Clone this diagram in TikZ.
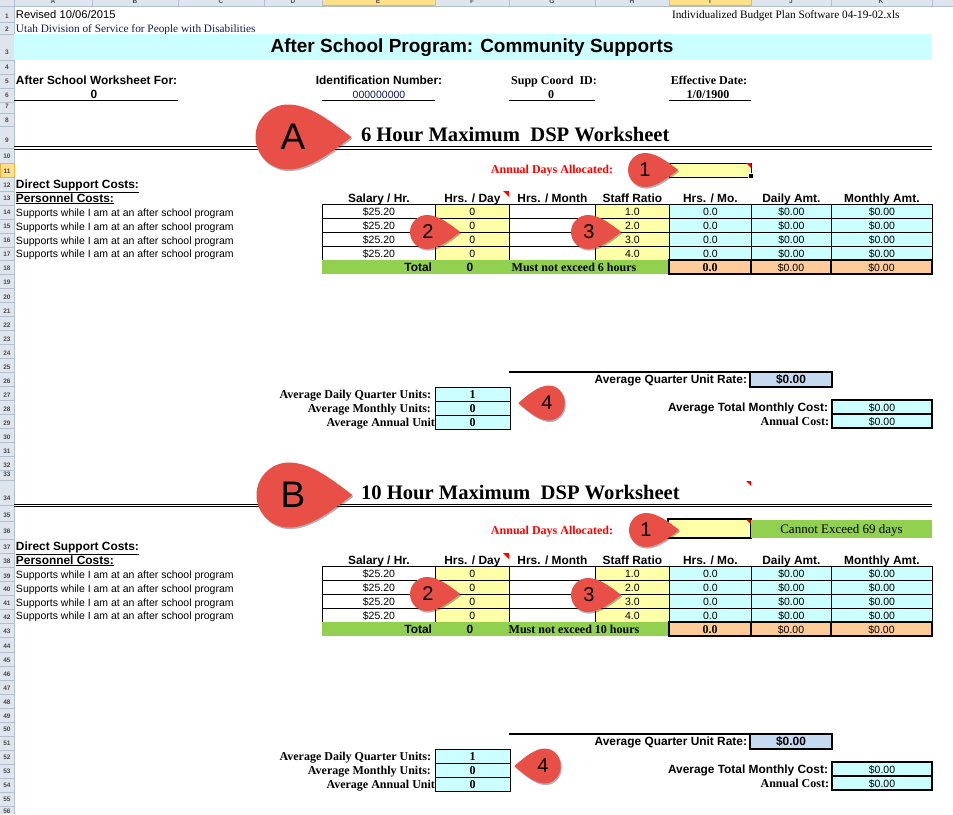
\documentclass[tikz,border=0pt]{standalone}
\usepackage{fontspec}
\setmainfont{Liberation Sans}
\newfontfamily\timesfont{Liberation Serif}
\usetikzlibrary{matrix,positioning,shadows}

\definecolor{hdrgray}{HTML}{DFE5EE}
\definecolor{hdrline}{HTML}{B4BFCE}
\definecolor{hdrsel}{HTML}{FCE08A}
\definecolor{hdredge}{HTML}{EDB24A}
\definecolor{bandcyan}{HTML}{CCFFFF}
\definecolor{cellyellow}{HTML}{FFFFA8}
\definecolor{cellgreen}{HTML}{92D050}
\definecolor{cellorange}{HTML}{FFCC99}
\definecolor{cellblue}{HTML}{C5D9F1}
\definecolor{calloutred}{HTML}{E84F47}
\definecolor{notered}{HTML}{FF0000}
\definecolor{utahblue}{HTML}{101A50}

\tikzset{
  plain/.style={inner sep=0pt,outer sep=0pt,text height=9pt,text depth=1pt,font=\fontsize{10.5}{12}\selectfont},
  armbold/.style={plain,font=\fontsize{11.9}{12}\selectfont\bfseries},
  serif/.style={plain,font=\fontsize{11.3}{12}\selectfont\timesfont},
  serifbold/.style={plain,font=\fontsize{12}{12}\selectfont\timesfont\bfseries},
  cellbox/.style={plain,draw=black,line width=.8pt,minimum height=14pt},
  sumbox/.style={cellbox,draw=black,line width=1.7pt,fill=cellorange},
  costbox/.style={cellbox,line width=1.7pt,fill=bandcyan,minimum width=100pt},
  unitbox/.style={cellbox,fill=bandcyan,minimum width=75pt},
  rowlab/.style={inner sep=0pt,font=\fontsize{6.5}{7}\selectfont\bfseries,text=black!70},
  sheettitle/.style={plain,text height=16pt,text depth=2.6pt,font=\fontsize{20.6}{22}\selectfont\timesfont\bfseries},
}

% teardrop marker: name, x, y, radius, direction, label, font size, label x
\newcommand{\teardrop}[8]{%
  \begin{scope}[shift={(#2,#3)},x=#4pt,y=#4pt,xscale=#5]
    \fill[calloutred,drop shadow={shadow xshift=1pt,shadow yshift=-1.6pt,fill=black,opacity=.3}]
      (1.95,0) .. controls (1.3,.5) and (.65,1) .. (0,1)
      .. controls (-.55,1) and (-1,.55) .. (-1,0)
      .. controls (-1,-.55) and (-.55,-1) .. (0,-1)
      .. controls (.65,-1) and (1.3,-.5) .. (1.95,0) -- cycle;
  \end{scope}
  \node (#1) at (#8,#3) [inner sep=0pt,font=\fontsize{#7}{#7}\selectfont] {#6};
}

% table, totals and unit boxes of one worksheet; #2 is its row offset
\newcommand{\worksheet}[3]{%
  \node[armbold,anchor=west] (#1direct) at (16,{184+#2}) {\underline{Direct Support Costs:}};
  \node[armbold,anchor=west] (#1personnel) at (16,{198+#2}) {\underline{Personnel Costs:}};
  \foreach \r/\y in {1/212,2/226,3/240,4/253}
    \node[plain,anchor=west] (#1support\r) at (16,{\y+#2}) {Supports while I am at an after school program};
  \matrix (#1tab) at (322,{204+#2}) [matrix of nodes,nodes in empty cells,anchor=north west,inner sep=0pt,outer sep=0pt,
      ampersand replacement=\&,row sep=-.8pt,column sep=-.8pt,nodes={cellbox},
      column 1/.style={nodes={minimum width=113pt}},
      column 2/.style={nodes={minimum width=74pt,fill=cellyellow}},
      column 3/.style={nodes={minimum width=86pt}},
      column 4/.style={nodes={minimum width=74pt,fill=cellyellow}},
      column 5/.style={nodes={minimum width=82pt,fill=bandcyan}},
      column 6/.style={nodes={minimum width=80pt,fill=bandcyan}},
      column 7/.style={nodes={minimum width=101pt,fill=bandcyan}}] {
    \$25.20 \& 0 \& \& 1.0 \& 0.0 \& \$0.00 \& \$0.00 \\
    \$25.20 \& 0 \& \& 2.0 \& 0.0 \& \$0.00 \& \$0.00 \\
    \$25.20 \& 0 \& \& 3.0 \& 0.0 \& \$0.00 \& \$0.00 \\
    \$25.20 \& 0 \& \& 4.0 \& 0.0 \& \$0.00 \& \$0.00 \\};
  \foreach \c/\t in {1/{Salary / Hr.},2/{Hrs. / Day},3/{Hrs. / Month},4/{Staff Ratio},5/{Hrs. / Mo.},6/{Daily Amt.},7/{Monthly Amt.}}
    \node[armbold,above=1pt of #1tab-1-\c] (#1head\c) {\t};
  \fill[notered] (503,{191+#2}) -- (509,{191+#2}) -- (509,{197+#2}) -- cycle;
  \node[plain,fill=cellgreen,minimum width=347pt,minimum height=14pt,anchor=north west] (#1total) at (322,{260+#2}) {};
  \node[armbold,anchor=east] (#1totallab) at (432,{267+#2}) {Total};
  \node[armbold] (#1totalhrs) at (470,{267+#2}) {0};
  \node[serifbold] (#1limit) at (574,{267+#2}) {Must not exceed #3 hours};
  \node[sumbox,minimum width=82pt,anchor=north west,font=\fontsize{12}{12}\selectfont\timesfont\bfseries] (#1sum5) at (669,{260+#2}) {0.0};
  \node[sumbox,minimum width=80pt,right=0pt of #1sum5] (#1sum6) {\$0.00};
  \node[sumbox,minimum width=101pt,right=0pt of #1sum6] (#1sum7) {\$0.00};
  % unit boxes
  \node[unitbox,serifbold,draw=black,line width=.8pt,minimum height=14pt,anchor=north west] (#1unit1) at (435,{387+#2}) {1};
  \node[unitbox,serifbold,draw=black,line width=.8pt,minimum height=14pt,below=0pt of #1unit1] (#1unit2) {0};
  \node[unitbox,serifbold,draw=black,line width=.8pt,minimum height=14pt,below=0pt of #1unit2] (#1unit3) {0};
  \node[serifbold,left=4pt of #1unit1] (#1unitlab1) {Average Daily Quarter Units:};
  \node[serifbold,left=4pt of #1unit2] (#1unitlab2) {Average Monthly Units:};
  \node[serifbold,left=0pt of #1unit3] (#1unitlab3) {Average Annual Unit};
  % rate and cost
  \node[sumbox,armbold,fill=cellblue,draw=black,line width=1.7pt,minimum height=15pt,minimum width=82pt,anchor=north west] (#1rate) at (750,{372+#2}) {\$0.00};
  \coordinate (#1ratestart) at (509,{372+#2});
  \draw[line width=1.7pt] (#1ratestart) -- (#1rate.north west);
  \node[armbold,left=3pt of #1rate] (#1ratelab) {Average Quarter Unit Rate:};
  \node[costbox,anchor=north west] (#1cost1) at (832,{400+#2}) {\$0.00};
  \node[costbox,below=0pt of #1cost1] (#1cost2) {\$0.00};
  \node[armbold,left=4pt of #1cost1] (#1costlab1) {Average Total Monthly Cost:};
  \node[serifbold,left=3pt of #1cost2] (#1costlab2) {Annual Cost:};
}

\begin{document}
\begin{tikzpicture}[x=1pt,y=-1pt]
  \useasboundingbox (0,0) rectangle (953,814);
  % sheet headers
  \fill[hdrgray] (0,0) rectangle (953,6);
  \fill[hdrgray] (0,0) rectangle (14,814);
  \fill[hdrsel] (322,0) rectangle (435,6);
  \fill[hdrsel] (669,0) rectangle (751,6);
  \fill[hdrsel] (0,163) rectangle (14,177);
  \draw[hdrline] (0,6) -- (953,6);
  \draw[hdrline] (14,0) -- (14,814);
  \begin{scope}
    \clip (14,0) rectangle (953,6);
    \foreach \c/\x in {A/53,B/135,C/221,D/293,E/378,F/472,G/552,H/632,I/710,J/791,K/881}
      \node[rowlab] (col\c) at (\x,1.5) {\c};
  \end{scope}
  \foreach \x in {14,92,178,264,322,435,509,595,669,751,831,932}
    \draw[hdrline] (\x,0) -- (\x,6);
  \draw[hdredge] (322,5.5) -- (435,5.5);
  \draw[hdredge] (669,5.5) -- (751,5.5);
  \foreach \n/\b/\l in {1/22/16,2/34/29,3/60/52,4/74/67,5/88/81,6/102/95,7/113/106,8/126/120,9/148/140,10/163/156,11/177/171,12/191/185,13/205/198,14/219/212,15/233/226,16/247/240,17/260/254,18/274/268,19/288/282,20/302/297,21/316/311,22/330/325,23/344/339,24/358/353,25/372/367,26/386/381,27/400/395,28/414/409,29/428/423,30/442/437,31/456/451,32/470/465,33/480/474,34/505/498,35/521/515,36/539/531,37/553/547,38/567/561,39/581/576,40/595/589,41/609/603,42/623/617,43/637/631,44/652/646,45/666/660,46/680/674,47/694/688,48/708/702,49/722/716,50/736/729,51/750/743,52/764/757,53/778/771,54/792/785,55/806/799,56/820/811} {
    \draw[hdrline] (0,\b) -- (14,\b);
    \node[rowlab] (row\n) at (7,\l) {\n};
  }
  \draw[hdredge,line width=.8pt] (0,163) rectangle (14,177);

  % heading block
  \node[plain,anchor=west,font=\fontsize{11.2}{12}\selectfont] (revised) at (16,14) {Revised 10/06/2015};
  \node[serif,anchor=west,text=utahblue] (division) at (16,28) {Utah Division of Service for People with Disabilities};
  \node[serif,anchor=west] (software) at (672,14) {Individualized Budget Plan Software 04-19-02.xls};
  \node[plain,fill=bandcyan,minimum width=918pt,minimum height=26pt,anchor=north west] (band) at (14,34) {};
  \node[inner sep=0pt,font=\fontsize{19}{22}\selectfont\bfseries] (title) at (472,48) {After School Program: Community Supports};
  \node[armbold,anchor=west] (forlab) at (16,80) {After School Worksheet For:};
  \node[armbold] (forval) at (94,94) {0};
  \node[armbold] (idlab) at (379,80) {Identification Number:};
  \node[plain,text=utahblue] (idval) at (379,94) {000000000};
  \node[serifbold] (supplab) at (554,80) {Supp Coord\ \ ID:};
  \node[serifbold] (suppval) at (551,94) {0};
  \node[serifbold] (datelab) at (709,80) {Effective Date:};
  \node[serifbold] (dateval) at (708,94) {1/0/1900};
  \foreach \a/\b in {14/178,322/435,509/595,669/751}
    \draw[line width=1.1pt] (\a,100.5) -- (\b,100.5);

  % 6 hour sheet
  \node[sheettitle,anchor=west] (titleA) at (361,135) {6 Hour Maximum\ \ DSP Worksheet};
  \draw[line width=.9pt] (14,146.5) -- (932,146.5);
  \draw[line width=.9pt] (14,149) -- (932,149);
  \node[serifbold,text=notered,anchor=east] (daysA) at (613,169) {Annual Days Allocated:};
  \node[plain,draw=black,line width=.8pt,fill=cellyellow,minimum width=82pt,minimum height=14pt,anchor=north west] (boxA) at (669,163) {};
  \fill[notered] (746,163) -- (751,163) -- (751,168) -- cycle;
  \node[draw=white,fill=black,inner sep=0pt,minimum size=5pt] (handleA) at (751,176) {};
  \worksheet{A}{0}{6}

  % 10 hour sheet
  \node[sheettitle,anchor=west] (titleB) at (361,493) {10 Hour Maximum\ \ DSP Worksheet};
  \fill[notered] (746,481) -- (751,481) -- (751,486) -- cycle;
  \draw[line width=.9pt] (14,504) -- (932,504);
  \draw[line width=.9pt] (14,506.5) -- (932,506.5);
  \node[serifbold,text=notered,anchor=east] (daysB) at (613,530) {Annual Days Allocated:};
  \node[plain,draw=black,line width=1.7pt,fill=cellyellow,minimum width=83pt,minimum height=19pt,anchor=north west] (boxB) at (668,519) {};
  \fill[notered] (746,519.5) -- (750.5,519.5) -- (750.5,524) -- cycle;
  \node[plain,fill=cellgreen,minimum width=181pt,minimum height=18pt,anchor=north west,font=\fontsize{13}{13}\selectfont\timesfont] (limitB) at (751,520) {Cannot Exceed 69 days};
  \worksheet{B}{362}{10}

  % markers
  \teardrop{markA}{288}{137}{32.5}{1}{A}{37}{293}
  \teardrop{markB}{289}{495}{32.5}{1}{B}{37}{293}
  \teardrop{oneA}{645}{170}{17}{1}{1}{20}{645}
  \teardrop{twoA}{427}{232}{17}{1}{2}{20}{428}
  \teardrop{threeA}{588}{232}{17}{1}{3}{20}{589}
  \teardrop{fourA}{549}{403}{17.5}{-.9}{4}{20}{547}
  \teardrop{oneB}{646}{530}{17}{1}{1}{20}{646}
  \teardrop{twoB}{427}{594}{17}{1}{2}{20}{428}
  \teardrop{threeB}{588}{595}{17}{1}{3}{20}{589}
  \teardrop{fourB}{545}{766}{17.5}{-.9}{4}{20}{543}
\end{tikzpicture}
\end{document}
